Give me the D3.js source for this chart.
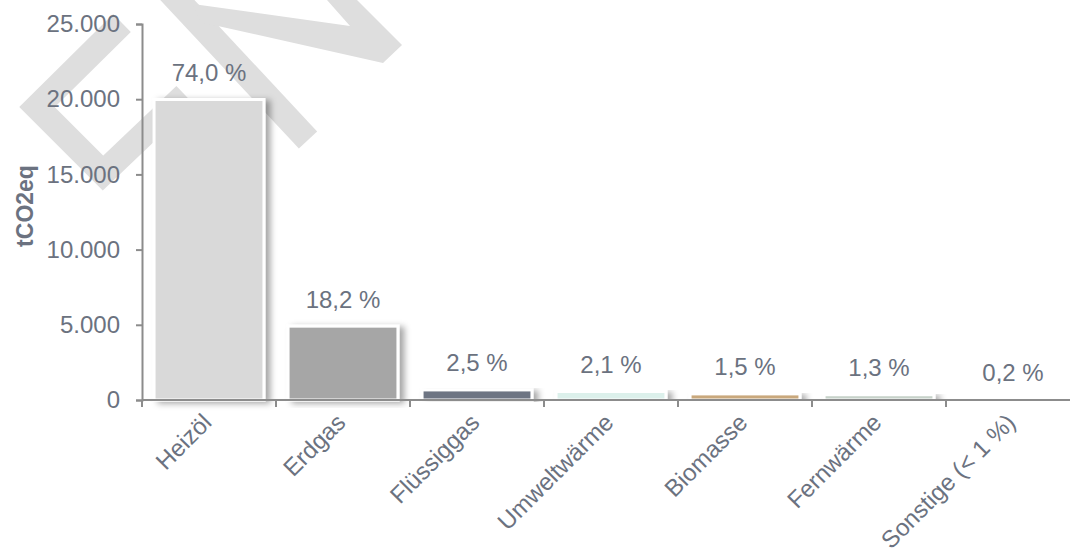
<!DOCTYPE html>
<html>
<head>
<meta charset="utf-8">
<script src="https://cdn.jsdelivr.net/npm/d3@7"></script>
<style>
    body { margin: 0; background: #fff; }
    text { font-family: "Liberation Sans", Arial, sans-serif; }
</style>
</head>
<body>
<svg id="co2_bar_chart" width="1070" height="550"></svg>
<script>

let categories = ['Heizöl', 'Erdgas', 'Flüssiggas', 'Umweltwärme', 'Biomasse', 'Fernwärme', 'Sonstige (< 1 %)'];
let emissions = [19980, 4910, 670, 565, 405, 350, 55];
let shares = [74.0, 18.2, 2.5, 2.1, 1.5, 1.3, 0.2];
let bar_colors = ['#d9d9d9', '#a6a6a6', '#6e7583', '#dcf0eb', '#c9a87b', '#c6d1c9', '#d9d9d9'];
let y_ticks = [0, 5000, 10000, 15000, 20000, 25000];

function co2_bar_chart() {

    let width = 1070;
    let height = 550;
    let left = 142;
    let bottom = 400;
    let top = 24;
    let step = 134;

    let de = d3.formatLocale({ decimal: ',', thousands: '.', grouping: [3], currency: ['', ' €'] });

    let svg = d3.select('#co2_bar_chart');

    // drop shadow for the bars
    let filter = svg.append('defs').append('filter')
        .attr('id', 'shadow')
        .attr('x', '-10%').attr('y', '-10%')
        .attr('width', '130%').attr('height', '120%');
    filter.append('feDropShadow')
        .attr('dx', 5).attr('dy', 2)
        .attr('stdDeviation', 3)
        .attr('flood-color', '#000')
        .attr('flood-opacity', 0.35);

    // watermark in the background
    let wm = svg.append('g').attr('fill', 'none').attr('stroke', '#dedede').attr('stroke-width', 25);
    wm.append('path').attr('d', 'M122,23 L37,107 L103,173 L185,95').attr('stroke-linejoin', 'miter');
    wm.append('path').attr('d', 'M168,-10 L308,140');
    svg.append('path')
        .attr('d', 'M327,0 L350,26 L193,4 L200,22 L383,63 L402,45 L357,0 Z')
        .attr('fill', '#dedede');

    let x = d3.scaleBand()
        .domain(categories)
        .range([left, left + step * categories.length])
        .paddingInner(0.18)
        .paddingOuter(0.09);

    let y = d3.scaleLinear()
        .domain([0, 25000])
        .range([bottom, top]);

    let data = categories.map((c, i) => ({ name: c, value: emissions[i], share: shares[i], color: bar_colors[i] }));

    // bars
    svg.append('g')
        .selectAll('rect')
        .data(data)
        .join('rect')
        .attr('x', d => x(d.name))
        .attr('y', d => y(d.value))
        .attr('width', x.bandwidth())
        .attr('height', d => bottom - y(d.value))
        .attr('fill', d => d.color)
        .attr('stroke', '#fff')
        .attr('stroke-width', 3)
        .attr('filter', 'url(#shadow)');

    // percentage labels
    svg.append('g')
        .selectAll('text')
        .data(data)
        .join('text')
        .attr('x', d => x(d.name) + x.bandwidth() / 2)
        .attr('y', d => y(d.value) - 18.5)
        .attr('text-anchor', 'middle')
        .attr('font-size', '24px')
        .attr('fill', '#6b7280')
        .text(d => de.format('.1f')(d.share) + ' %');

    // y axis
    let y_axis = svg.append('g')
        .attr('transform', 'translate(' + left + ',0)')
        .call(d3.axisLeft(y).tickValues(y_ticks).tickSize(6).tickPadding(16).tickFormat(de.format(',')));
    y_axis.select('.domain').attr('stroke', '#8c8c8c').attr('stroke-width', 2);
    y_axis.selectAll('.tick line').attr('stroke', '#8c8c8c').attr('stroke-width', 2);
    y_axis.selectAll('.tick text').attr('font-size', '24px').attr('fill', '#6b7280')
        .attr('font-family', '"Liberation Sans", Arial, sans-serif');

    // x axis line + ticks on the category borders
    svg.append('line')
        .attr('x1', left).attr('x2', width)
        .attr('y1', bottom).attr('y2', bottom)
        .attr('stroke', '#8c8c8c').attr('stroke-width', 2);

    svg.append('g')
        .selectAll('line')
        .data(categories)
        .join('line')
        .attr('x1', d => x(d) - x.step() * x.paddingOuter())
        .attr('x2', d => x(d) - x.step() * x.paddingOuter())
        .attr('y1', bottom).attr('y2', bottom + 7)
        .attr('stroke', '#8c8c8c').attr('stroke-width', 2);

    // rotated category labels
    svg.append('g')
        .selectAll('text')
        .data(categories)
        .join('text')
        .attr('transform', d => 'translate(' + (x(d) + x.bandwidth() / 2 + 4) + ',' + (bottom + 24) + ') rotate(-45)')
        .attr('text-anchor', 'end')
        .attr('font-size', '24px')
        .attr('fill', '#6b7280')
        .text(d => d);

    // y axis title
    svg.append('text')
        .attr('transform', 'translate(33,' + 206 + ') rotate(-90)')
        .attr('text-anchor', 'middle')
        .attr('font-size', '23px')
        .attr('font-weight', 'bold')
        .attr('fill', '#6b7280')
        .text('tCO2eq');
}

co2_bar_chart();

</script>
</body>
</html>
